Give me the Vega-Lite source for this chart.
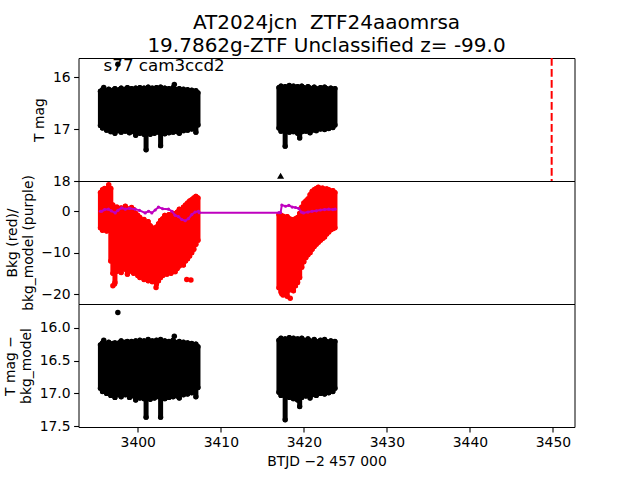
{
"$schema": "https://vega.github.io/schema/vega-lite/v6.json",
"padding": {"left": 2.5, "top": 12, "right": 5, "bottom": 5},
"background": "white",
"config": {
  "font": "DejaVu Sans",
  "view": {"stroke": "black", "strokeWidth": 1},
  "axis": {"labelFont": "DejaVu Sans", "labelFontSize": 13.9, "labelColor": "black", "titleFont": "DejaVu Sans", "titleFontSize": 13.9, "titleFontWeight": "normal", "titleColor": "black", "tickColor": "black", "tickSize": 4.9, "tickWidth": 1.1, "labelPadding": 3.5, "domain": false, "grid": false, "titlePadding": 5.6, "labelOverlap": false},
  "title": {"font": "DejaVu Sans", "fontSize": 20, "fontWeight": "normal", "color": "black", "lineHeight": 23, "anchor": "middle", "offset": 1}
},
"datasets": {
  "lc": [
    {"t":3395.5,"lo":16.27,"hi":16.93,"rl":-4.0,"rh":4.5,"bl":16.26,"bh":16.92},
    {"t":3395.75,"lo":16.24,"hi":16.98,"rl":-4.6,"rh":5.2,"bl":16.23,"bh":16.97},
    {"t":3396.0,"lo":16.29,"hi":16.95,"rl":-4.2,"rh":5.5,"bl":16.28,"bh":16.96},
    {"t":3396.25,"lo":16.26,"hi":17.02,"rl":-4.8,"rh":5.0,"bl":16.25,"bh":17.0},
    {"t":3396.5,"lo":16.23,"hi":16.97,"rl":-4.5,"rh":5.8,"bl":16.22,"bh":16.96},
    {"t":3396.75,"lo":16.28,"hi":17.05,"rl":-12.0,"rh":5.5,"bl":16.27,"bh":17.03},
    {"t":3397.0,"lo":16.25,"hi":16.99,"rl":-15.0,"rh":1.5,"bl":16.24,"bh":16.98},
    {"t":3397.25,"lo":16.22,"hi":17.08,"rl":-17.2,"rh":0.8,"bl":16.23,"bh":17.06},
    {"t":3397.5,"lo":16.27,"hi":16.96,"rl":-14.5,"rh":1.0,"bl":16.26,"bh":16.95},
    {"t":3397.75,"lo":16.24,"hi":17.03,"rl":-13.5,"rh":0.5,"bl":16.23,"bh":17.02},
    {"t":3398.0,"lo":16.21,"hi":17.06,"rl":-14.8,"rh":0.8,"bl":16.2,"bh":17.05},
    {"t":3398.25,"lo":16.26,"hi":16.98,"rl":-13.2,"rh":0.3,"bl":16.25,"bh":16.97},
    {"t":3398.5,"lo":16.23,"hi":17.04,"rl":-14.0,"rh":1.2,"bl":16.22,"bh":17.02},
    {"t":3398.75,"lo":16.2,"hi":17.0,"rl":-15.2,"rh":0.6,"bl":16.21,"bh":16.99},
    {"t":3399.0,"lo":16.25,"hi":17.07,"rl":-13.8,"rh":0.2,"bl":16.24,"bh":17.06},
    {"t":3399.25,"lo":16.22,"hi":16.99,"rl":-14.5,"rh":0.9,"bl":16.21,"bh":16.98},
    {"t":3399.5,"lo":16.27,"hi":17.05,"rl":-15.0,"rh":0.4,"bl":16.26,"bh":17.04},
    {"t":3399.75,"lo":16.21,"hi":17.12,"rl":-14.2,"rh":-0.5,"bl":16.2,"bh":17.1},
    {"t":3400.0,"lo":16.24,"hi":17.03,"rl":-15.5,"rh":-1.0,"bl":16.23,"bh":17.02},
    {"t":3400.25,"lo":16.2,"hi":17.08,"rl":-16.0,"rh":-1.5,"bl":16.19,"bh":17.07},
    {"t":3400.5,"lo":16.25,"hi":17.0,"rl":-15.2,"rh":-2.5,"bl":16.24,"bh":17.0},
    {"t":3400.75,"lo":16.21,"hi":17.1,"rl":-16.5,"rh":-2.0,"bl":16.2,"bh":17.08},
    {"t":3401.0,"lo":16.23,"hi":17.4,"rl":-15.8,"rh":-3.0,"bl":16.22,"bh":17.36},
    {"t":3401.25,"lo":16.19,"hi":17.05,"rl":-16.8,"rh":-2.5,"bl":16.18,"bh":17.04},
    {"t":3401.5,"lo":16.24,"hi":17.1,"rl":-16.2,"rh":-3.5,"bl":16.23,"bh":17.09},
    {"t":3401.75,"lo":16.21,"hi":17.02,"rl":-17.0,"rh":-4.0,"bl":16.2,"bh":17.01},
    {"t":3402.0,"lo":16.26,"hi":17.08,"rl":-16.5,"rh":-4.5,"bl":16.25,"bh":17.07},
    {"t":3402.25,"lo":16.2,"hi":17.0,"rl":-17.6,"rh":-3.8,"bl":16.19,"bh":16.99},
    {"t":3402.5,"lo":16.23,"hi":17.06,"rl":-16.8,"rh":-3.0,"bl":16.22,"bh":17.05},
    {"t":3402.75,"lo":16.19,"hi":17.32,"rl":-16.0,"rh":-2.2,"bl":16.18,"bh":17.36},
    {"t":3403.0,"lo":16.24,"hi":17.04,"rl":-15.5,"rh":-1.8,"bl":16.23,"bh":17.03},
    {"t":3403.25,"lo":16.21,"hi":17.09,"rl":-14.8,"rh":-1.0,"bl":16.2,"bh":17.08},
    {"t":3403.5,"lo":16.25,"hi":17.0,"rl":-15.2,"rh":-1.5,"bl":16.24,"bh":16.99},
    {"t":3403.75,"lo":16.22,"hi":17.07,"rl":-14.5,"rh":-0.8,"bl":16.21,"bh":17.06},
    {"t":3404.0,"lo":16.26,"hi":17.02,"rl":-15.0,"rh":-1.2,"bl":16.25,"bh":17.01},
    {"t":3404.25,"lo":16.2,"hi":17.06,"rl":-14.0,"rh":-0.5,"bl":16.19,"bh":17.05},
    {"t":3404.5,"lo":16.23,"hi":16.99,"rl":-14.6,"rh":-1.0,"bl":16.22,"bh":16.98},
    {"t":3404.75,"lo":16.25,"hi":17.05,"rl":-13.8,"rh":-0.2,"bl":16.24,"bh":17.04},
    {"t":3405.0,"lo":16.22,"hi":17.08,"rl":-13.2,"rh":0.5,"bl":16.21,"bh":17.07},
    {"t":3405.25,"lo":16.26,"hi":16.98,"rl":-12.8,"rh":0.2,"bl":16.25,"bh":16.97},
    {"t":3405.5,"lo":16.23,"hi":17.03,"rl":-13.0,"rh":1.0,"bl":16.22,"bh":17.02},
    {"t":3405.75,"lo":16.27,"hi":16.97,"rl":-12.0,"rh":1.5,"bl":16.26,"bh":16.96},
    {"t":3406.0,"lo":16.24,"hi":17.02,"rl":-11.5,"rh":2.0,"bl":16.23,"bh":17.01},
    {"t":3406.25,"lo":16.28,"hi":16.96,"rl":-10.8,"rh":2.5,"bl":16.27,"bh":16.95},
    {"t":3406.5,"lo":16.25,"hi":17.0,"rl":-10.0,"rh":2.8,"bl":16.24,"bh":16.99},
    {"t":3406.75,"lo":16.29,"hi":16.94,"rl":-9.2,"rh":3.2,"bl":16.28,"bh":16.93},
    {"t":3407.0,"lo":16.26,"hi":17.06,"rl":-8.0,"rh":3.6,"bl":16.25,"bh":17.05},
    {"t":3407.25,"lo":16.3,"hi":16.92,"rl":-7.0,"rh":3.2,"bl":16.29,"bh":16.91},
    {"t":3417.0,"lo":16.2,"hi":16.98,"rl":-18.5,"rh":-0.8,"bl":16.19,"bh":16.98},
    {"t":3417.25,"lo":16.17,"hi":17.04,"rl":-19.5,"rh":-1.0,"bl":16.16,"bh":17.03},
    {"t":3417.5,"lo":16.22,"hi":17.0,"rl":-20.2,"rh":-1.2,"bl":16.21,"bh":17.0},
    {"t":3417.75,"lo":16.18,"hi":17.33,"rl":-19.8,"rh":-1.5,"bl":16.17,"bh":17.4},
    {"t":3418.0,"lo":16.21,"hi":17.02,"rl":-20.5,"rh":-1.3,"bl":16.2,"bh":17.02},
    {"t":3418.25,"lo":16.16,"hi":17.06,"rl":-19.0,"rh":-1.8,"bl":16.15,"bh":17.06},
    {"t":3418.5,"lo":16.2,"hi":16.99,"rl":-18.5,"rh":-2.0,"bl":16.19,"bh":16.99},
    {"t":3418.75,"lo":16.17,"hi":17.05,"rl":-19.2,"rh":-2.2,"bl":16.16,"bh":17.08},
    {"t":3419.0,"lo":16.22,"hi":17.03,"rl":-18.0,"rh":-1.8,"bl":16.21,"bh":17.03},
    {"t":3419.25,"lo":16.18,"hi":17.08,"rl":-17.2,"rh":-1.5,"bl":16.17,"bh":17.1},
    {"t":3419.5,"lo":16.21,"hi":17.17,"rl":-16.0,"rh":-0.5,"bl":16.2,"bh":17.2},
    {"t":3419.75,"lo":16.17,"hi":17.05,"rl":-13.5,"rh":1.0,"bl":16.16,"bh":17.06},
    {"t":3420.0,"lo":16.2,"hi":17.0,"rl":-12.2,"rh":2.0,"bl":16.19,"bh":17.0},
    {"t":3420.25,"lo":16.22,"hi":17.04,"rl":-11.2,"rh":2.5,"bl":16.21,"bh":17.04},
    {"t":3420.5,"lo":16.18,"hi":16.98,"rl":-10.5,"rh":3.0,"bl":16.17,"bh":16.99},
    {"t":3420.75,"lo":16.21,"hi":17.07,"rl":-10.0,"rh":4.0,"bl":16.2,"bh":17.07},
    {"t":3421.0,"lo":16.23,"hi":17.02,"rl":-9.2,"rh":4.8,"bl":16.22,"bh":17.02},
    {"t":3421.25,"lo":16.19,"hi":16.97,"rl":-8.5,"rh":5.2,"bl":16.18,"bh":16.97},
    {"t":3421.5,"lo":16.22,"hi":17.03,"rl":-8.0,"rh":5.5,"bl":16.21,"bh":17.03},
    {"t":3421.75,"lo":16.24,"hi":16.96,"rl":-7.5,"rh":5.8,"bl":16.23,"bh":16.96},
    {"t":3422.0,"lo":16.2,"hi":17.0,"rl":-7.0,"rh":5.3,"bl":16.19,"bh":17.0},
    {"t":3422.25,"lo":16.23,"hi":16.95,"rl":-6.6,"rh":5.6,"bl":16.22,"bh":16.95},
    {"t":3422.5,"lo":16.19,"hi":17.01,"rl":-6.2,"rh":5.0,"bl":16.18,"bh":17.01},
    {"t":3422.75,"lo":16.22,"hi":16.94,"rl":-5.5,"rh":5.4,"bl":16.21,"bh":16.94},
    {"t":3423.0,"lo":16.25,"hi":16.99,"rl":-5.0,"rh":5.2,"bl":16.24,"bh":16.99},
    {"t":3423.25,"lo":16.21,"hi":16.93,"rl":-4.5,"rh":4.8,"bl":16.2,"bh":16.93},
    {"t":3423.5,"lo":16.24,"hi":16.97,"rl":-4.2,"rh":5.0,"bl":16.23,"bh":16.97},
    {"t":3423.75,"lo":16.22,"hi":16.92,"rl":-4.0,"rh":4.5,"bl":16.21,"bh":16.92}
  ],
  "bkgm": [
    {"t":3395.5,"m":0.0},{"t":3395.66,"m":0.0},{"t":3396.0,"m":0.4},{"t":3396.47,"m":0.5},{"t":3396.8,"m":0.1},
    {"t":3397.28,"m":-0.4},{"t":3397.6,"m":0.2},{"t":3398.07,"m":0.8},{"t":3398.5,"m":0.5},{"t":3399.0,"m":0.7},
    {"t":3399.69,"m":0.5},{"t":3400.2,"m":0.2},{"t":3400.89,"m":-0.4},{"t":3401.3,"m":0.0},{"t":3401.69,"m":-0.4},
    {"t":3402.1,"m":0.3},{"t":3402.49,"m":1.0},{"t":3403.0,"m":0.6},{"t":3403.7,"m":0.5},{"t":3404.1,"m":0.0},
    {"t":3404.5,"m":-1.0},{"t":3404.9,"m":-1.3},{"t":3405.3,"m":-2.0},{"t":3405.71,"m":-2.3},{"t":3406.1,"m":-1.8},
    {"t":3406.51,"m":-0.8},{"t":3406.9,"m":-0.2},{"t":3407.31,"m":0.0},{"t":3407.4,"m":-0.35},{"t":3417.0,"m":-0.35},
    {"t":3417.2,"m":-0.33},{"t":3417.35,"m":1.5},{"t":3417.8,"m":1.2},{"t":3418.2,"m":1.4},{"t":3418.6,"m":1.0},
    {"t":3419.0,"m":0.9},{"t":3419.36,"m":0.7},{"t":3419.7,"m":-0.2},{"t":3419.96,"m":-0.4},{"t":3420.5,"m":-0.2},
    {"t":3421.0,"m":0.0},{"t":3421.5,"m":0.1},{"t":3422.0,"m":0.3},{"t":3422.5,"m":0.4},{"t":3423.0,"m":0.5},
    {"t":3423.5,"m":0.4},{"t":3423.78,"m":0.5}
  ],
  "ptsT": [{"t":3395.9,"v":16.2},{"t":3397.6,"v":15.75},{"t":3404.4,"v":16.14}],
  "ptsB": [{"t":3395.9,"v":16.19},{"t":3397.6,"v":15.77},{"t":3404.4,"v":16.13}],
  "ptsR": [{"t":3396.5,"v":6.4},{"t":3397.0,"v":-18.0},{"t":3397.2,"v":-17.6},{"t":3402.2,"v":-18.4},{"t":3405.9,"v":-16.5},{"t":3406.4,"v":-16.6},{"t":3417.35,"v":-19.9},{"t":3418.36,"v":-21.0}],
  "lim": [{"t":3417.2,"v":17.9}],
  "lab": [{"t":3395.88,"v":15.88,"s":"s77 cam3ccd2"}]
},
"spacing": 0,
"bounds": "flush",
"vconcat": [
  {
    "width": 496, "height": 123,
    "title": {"text": ["AT2024jcn\u00a0 ZTF24aaomrsa", "19.7862g-ZTF Unclassified z= -99.0"]},
    "layer": [
      {"data": {"name": "lc"}, "mark": {"type": "rule", "color": "black", "strokeWidth": 5, "strokeCap": "round", "clip": true},
       "encoding": {
         "x": {"field": "t", "type": "quantitative", "scale": {"domain": [3392.86, 3452.6], "nice": false, "zero": false}, "axis": null},
         "y": {"field": "lo", "type": "quantitative", "scale": {"domain": [15.63, 18.0], "nice": false, "zero": false, "reverse": true}, "axis": {"values": [16, 17, 18], "format": "d", "title": "T mag"}},
         "y2": {"field": "hi"}}},
      {"data": {"name": "lc"}, "mark": {"type": "point", "filled": true, "color": "black", "size": 28, "opacity": 1},
       "encoding": {"x": {"field": "t", "type": "quantitative"}, "y": {"field": "lo", "type": "quantitative"}}},
      {"data": {"name": "lc"}, "mark": {"type": "point", "filled": true, "color": "black", "size": 28, "opacity": 1},
       "encoding": {"x": {"field": "t", "type": "quantitative"}, "y": {"field": "hi", "type": "quantitative"}}},
      {"data": {"name": "ptsT"}, "mark": {"type": "point", "filled": true, "color": "black", "size": 30, "opacity": 1},
       "encoding": {"x": {"field": "t", "type": "quantitative"}, "y": {"field": "v", "type": "quantitative"}}},
      {"data": {"name": "lim"}, "mark": {"type": "point", "shape": "triangle-up", "filled": true, "color": "black", "size": 50, "opacity": 1},
       "encoding": {"x": {"field": "t", "type": "quantitative"}, "y": {"field": "v", "type": "quantitative"}}},
      {"data": {"values": [{"tx": 3449.85}]}, "mark": {"type": "rule", "color": "red", "strokeWidth": 2, "strokeDash": [7.7, 3.3]},
       "encoding": {"x": {"field": "tx", "type": "quantitative"}}},
      {"data": {"name": "lab"}, "mark": {"type": "text", "align": "left", "baseline": "alphabetic", "fontSize": 16.7, "font": "DejaVu Sans", "color": "black"},
       "encoding": {"x": {"field": "t", "type": "quantitative"}, "y": {"field": "v", "type": "quantitative"}, "text": {"field": "s"}}}
    ]
  },
  {
    "width": 496, "height": 123,
    "layer": [
      {"data": {"name": "lc"}, "mark": {"type": "rule", "color": "#ff0000", "strokeWidth": 5, "strokeCap": "round", "clip": true},
       "encoding": {
         "x": {"field": "t", "type": "quantitative", "scale": {"domain": [3392.86, 3452.6], "nice": false, "zero": false}, "axis": null},
         "y": {"field": "rl", "type": "quantitative", "scale": {"domain": [-22.4, 7.3], "nice": false, "zero": false}, "axis": {"values": [0, -10, -20], "title": ["Bkg (red)/", "bkg_model (purple)"], "labelExpr": "replace(datum.label, '-', '\u2212')"}},
         "y2": {"field": "rh"}}},
      {"data": {"name": "lc"}, "mark": {"type": "point", "filled": true, "color": "#ff0000", "size": 28, "opacity": 1},
       "encoding": {"x": {"field": "t", "type": "quantitative"}, "y": {"field": "rl", "type": "quantitative"}}},
      {"data": {"name": "lc"}, "mark": {"type": "point", "filled": true, "color": "#ff0000", "size": 28, "opacity": 1},
       "encoding": {"x": {"field": "t", "type": "quantitative"}, "y": {"field": "rh", "type": "quantitative"}}},
      {"data": {"name": "ptsR"}, "mark": {"type": "point", "filled": true, "color": "#ff0000", "size": 30, "opacity": 1},
       "encoding": {"x": {"field": "t", "type": "quantitative"}, "y": {"field": "v", "type": "quantitative"}}},
      {"data": {"name": "bkgm"}, "mark": {"type": "line", "color": "#bf00bf", "strokeWidth": 2, "point": {"filled": true, "color": "#bf00bf", "size": 10, "opacity": 1}},
       "encoding": {"x": {"field": "t", "type": "quantitative"}, "y": {"field": "m", "type": "quantitative"}}}
    ]
  },
  {
    "width": 496, "height": 123,
    "layer": [
      {"data": {"name": "lc"}, "mark": {"type": "rule", "color": "black", "strokeWidth": 5, "strokeCap": "round", "clip": true},
       "encoding": {
         "x": {"field": "t", "type": "quantitative", "scale": {"domain": [3392.86, 3452.6], "nice": false, "zero": false}, "axis": {"values": [3400, 3410, 3420, 3430, 3440, 3450], "title": "BTJD \u22122 457 000", "format": "d"}},
         "y": {"field": "bl", "type": "quantitative", "scale": {"domain": [15.64, 17.51], "nice": false, "zero": false, "reverse": true}, "axis": {"values": [16.0, 16.5, 17.0, 17.5], "format": ".1f", "title": ["T mag \u2212", "bkg_model"]}},
         "y2": {"field": "bh"}}},
      {"data": {"name": "lc"}, "mark": {"type": "point", "filled": true, "color": "black", "size": 28, "opacity": 1},
       "encoding": {"x": {"field": "t", "type": "quantitative"}, "y": {"field": "bl", "type": "quantitative"}}},
      {"data": {"name": "lc"}, "mark": {"type": "point", "filled": true, "color": "black", "size": 28, "opacity": 1},
       "encoding": {"x": {"field": "t", "type": "quantitative"}, "y": {"field": "bh", "type": "quantitative"}}},
      {"data": {"name": "ptsB"}, "mark": {"type": "point", "filled": true, "color": "black", "size": 30, "opacity": 1},
       "encoding": {"x": {"field": "t", "type": "quantitative"}, "y": {"field": "v", "type": "quantitative"}}}
    ]
  }
]
}
